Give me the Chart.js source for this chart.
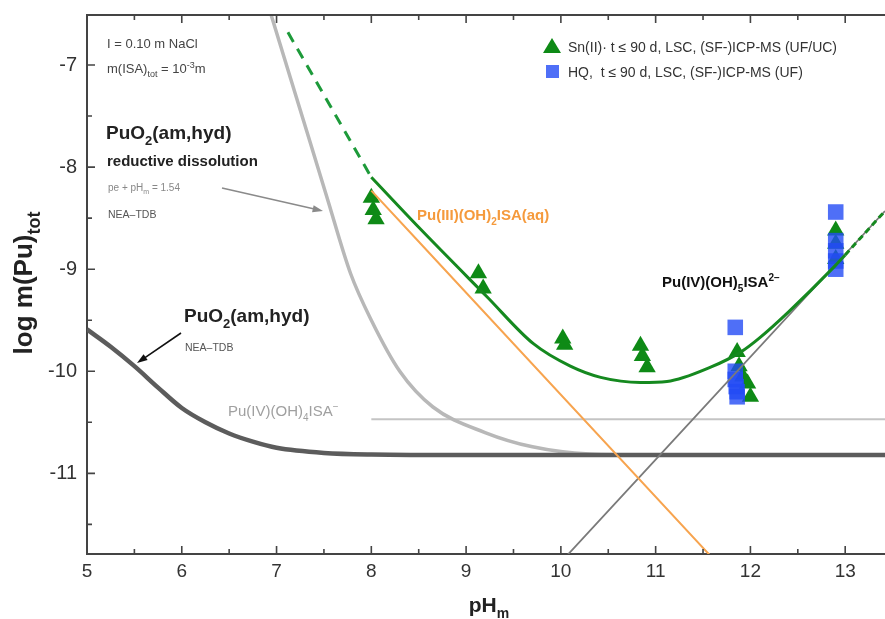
<!DOCTYPE html>
<html>
<head>
<meta charset="utf-8">
<script src="https://cdn.jsdelivr.net/npm/chart.js@4.4.0/dist/chart.umd.min.js"></script>
<style>
  html, body { margin: 0; padding: 0; background: #fff; }
</style>
</head>
<body>
<canvas id="puChart" width="885" height="619"></canvas>
<script>
const FONT = "Arial, 'Liberation Sans', Helvetica, sans-serif";

// solubility curves
const neaPH = [5.0, 5.25, 5.5, 5.75, 6.0, 6.25, 6.5, 6.75, 7.0, 7.5, 8.0, 9.0, 13.42];
const neaLog = [-9.59, -9.76, -9.95, -10.16, -10.36, -10.5, -10.61, -10.69, -10.75, -10.8, -10.815, -10.82, -10.82];

const redPH = [6.93, 7.25, 7.53, 7.78, 8.0, 8.3, 8.65, 9.2, 9.7, 10.3, 11.0, 13.42];
const redLog = [-6.47, -7.44, -8.29, -9.04, -9.5, -10.0, -10.35, -10.6, -10.74, -10.81, -10.82, -10.82];

const greenPH = [8.0, 8.5, 9.22, 9.71, 10.1, 10.42, 10.84, 11.12, 11.58, 11.9, 12.1, 12.4, 12.88, 13.0];
const greenLog = [-8.1, -8.59, -9.27, -9.73, -9.95, -10.06, -10.11, -10.1, -9.96, -9.81, -9.67, -9.42, -8.98, -8.86];
const greenLowPH = [7.12, 8.0];
const greenLowLog = [-6.68, -8.1];
const greenHighPH = [13.0, 13.42];
const greenHighLog = [-8.86, -8.43];

const pu3PH = [8.0, 11.6];
const pu3Log = [-8.23, -11.83];
const pu5PH = [10.04, 13.42];
const pu5Log = [-11.83, -8.43];
const pu4PH = [8.0, 13.42];
const pu4Log = [-10.47, -10.47];

// experimental data
const snPH = [8.0, 8.02, 8.05, 9.13, 9.18, 10.02, 10.04, 10.84, 10.86, 10.91, 11.86, 11.88, 11.92, 11.97, 12.0, 12.9, 12.9, 12.9];
const snLog = [-8.3, -8.42, -8.51, -9.04, -9.19, -9.68, -9.74, -9.75, -9.85, -9.96, -9.81, -9.95, -10.05, -10.12, -10.25, -8.62, -8.75, -8.9];
const hqPH = [11.84, 11.84, 11.84, 11.85, 11.86, 11.86, 12.9, 12.9, 12.9, 12.9, 12.9];
const hqLog = [-9.57, -10.0, -10.08, -10.15, -10.2, -10.25, -8.44, -8.72, -8.82, -8.92, -9.0];

const xTicks = [5, 6, 7, 8, 9, 10, 11, 12, 13];
const yTicks = [-11, -10, -9, -8, -7];

const toPts = (xs, ys) => xs.map((v, i) => ({ x: v, y: ys[i] }));

const lineSet = (label, xs, ys, color, width, order, dash) => ({
  label: label,
  data: toPts(xs, ys),
  showLine: true,
  borderColor: color,
  borderWidth: width,
  borderDash: dash || [],
  pointRadius: 0,
  cubicInterpolationMode: "monotone",
  order: order,
});

// draws text with sub/superscripts: parts = [[text, "sub"|"sup"|undefined], ...]
const drawRich = (ctx, parts, x, y, size, bold, color, align) => {
  const w = bold ? "bold " : "";
  const fontOf = (p) => w + (p[1] ? Math.round(size * 0.68) : size) + "px " + FONT;
  let total = 0;
  parts.forEach((p) => {
    ctx.font = fontOf(p);
    total += ctx.measureText(p[0]).width;
  });
  let cx = align === "center" ? x - total / 2 : x;
  ctx.fillStyle = color;
  ctx.textBaseline = "alphabetic";
  ctx.textAlign = "left";
  parts.forEach((p) => {
    ctx.font = fontOf(p);
    let dy = 0;
    if (p[1] === "sub") dy = size * 0.3;
    if (p[1] === "sup") dy = -size * 0.42;
    ctx.fillText(p[0], cx, y + dy);
    cx += ctx.measureText(p[0]).width;
  });
};

const drawArrow = (ctx, x1, y1, x2, y2, color, width) => {
  const ang = Math.atan2(y2 - y1, x2 - x1);
  const head = 11;
  ctx.strokeStyle = color;
  ctx.fillStyle = color;
  ctx.lineWidth = width;
  ctx.beginPath();
  ctx.moveTo(x1, y1);
  ctx.lineTo(x2 - Math.cos(ang) * head * 0.8, y2 - Math.sin(ang) * head * 0.8);
  ctx.stroke();
  ctx.beginPath();
  ctx.moveTo(x2, y2);
  ctx.lineTo(x2 - head * Math.cos(ang - 0.33), y2 - head * Math.sin(ang - 0.33));
  ctx.lineTo(x2 - head * Math.cos(ang + 0.33), y2 - head * Math.sin(ang + 0.33));
  ctx.closePath();
  ctx.fill();
};

// frame, inward ticks, titles, labels and legend
const decorations = {
  id: "decorations",
  afterDraw(chart) {
    const { ctx, chartArea: a, scales } = chart;
    const x = scales.x;
    const y = scales.y;
    ctx.save();

    ctx.strokeStyle = "#444";
    ctx.lineWidth = 2;
    ctx.beginPath();
    ctx.moveTo(a.left, a.top);
    ctx.lineTo(a.right, a.top);
    ctx.stroke();

    ctx.lineWidth = 1.6;
    ctx.beginPath();
    for (let v = 5; v <= x.max; v += 0.5) {
      const px = x.getPixelForValue(v);
      const len = Number.isInteger(v) ? 8 : 5;
      ctx.moveTo(px, a.bottom);
      ctx.lineTo(px, a.bottom - len);
      ctx.moveTo(px, a.top);
      ctx.lineTo(px, a.top + len);
    }
    for (let v = -11.5; v <= y.max; v += 0.5) {
      const py = y.getPixelForValue(v);
      const len = Number.isInteger(v) ? 8 : 5;
      ctx.moveTo(a.left, py);
      ctx.lineTo(a.left + len, py);
    }
    ctx.stroke();

    // axis titles
    drawRich(ctx, [["pH"], ["m", "sub"]], 489, 612, 21, true, "#222", "center");
    ctx.save();
    ctx.translate(32, 283);
    ctx.rotate(-Math.PI / 2);
    drawRich(ctx, [["log m(Pu)"], ["tot", "sub"]], 0, 0, 26, true, "#222", "center");
    ctx.restore();

    // conditions
    drawRich(ctx, [["I = 0.10 m NaCl"]], 107, 48, 13, false, "#444");
    drawRich(ctx, [["m(ISA)"], ["tot", "sub"], [" = 10"], ["-3", "sup"], ["m"]], 107, 73, 13, false, "#444");

    // reductive dissolution label
    drawRich(ctx, [["PuO"], ["2", "sub"], ["(am,hyd)"]], 106, 139, 19, true, "#222");
    drawRich(ctx, [["reductive dissolution"]], 107, 166, 15, true, "#222");
    drawRich(ctx, [["pe + pH"], ["m", "sub"], [" = 1.54"]], 108, 191, 10, false, "#888");
    drawRich(ctx, [["NEA\u2013TDB"]], 108, 218, 10.5, false, "#555");
    drawArrow(ctx, 222, 188, 323, 211, "#8a8a8a", 1.5);

    // NEA-TDB label
    drawRich(ctx, [["PuO"], ["2", "sub"], ["(am,hyd)"]], 184, 322, 19, true, "#222");
    drawRich(ctx, [["NEA\u2013TDB"]], 185, 351, 10.5, false, "#555");
    drawArrow(ctx, 181, 333, 137, 363, "#111", 1.6);

    // species labels
    drawRich(ctx, [["Pu(III)(OH)"], ["2", "sub"], ["ISA(aq)"]], 417, 220, 15, true, "#f59a3c");
    drawRich(ctx, [["Pu(IV)(OH)"], ["5", "sub"], ["ISA"], ["2\u2212", "sup"]], 662, 287, 15, true, "#111");
    drawRich(ctx, [["Pu(IV)(OH)"], ["4", "sub"], ["ISA"], ["\u2212", "sup"]], 228, 416, 15, false, "#a0a0a0");

    // legend
    const sn = chart.data.datasets.find((d) => d.label.startsWith("Sn"));
    const hq = chart.data.datasets.find((d) => d.label.startsWith("HQ"));
    ctx.fillStyle = sn.backgroundColor;
    ctx.beginPath();
    ctx.moveTo(552, 38);
    ctx.lineTo(561, 53);
    ctx.lineTo(543, 53);
    ctx.closePath();
    ctx.fill();
    ctx.fillStyle = hq.backgroundColor;
    ctx.fillRect(546, 65, 13, 13);
    drawRich(ctx, [[sn.label]], 568, 52, 14, false, "#333");
    drawRich(ctx, [[hq.label]], 568, 77, 14, false, "#333");

    ctx.restore();
  },
};

new Chart(document.getElementById("puChart"), {
  type: "scatter",
  data: {
    datasets: [
      lineSet("PuO2(am,hyd) red. diss.", redPH, redLog, "#b8b8b8", 3.5, 4),
      lineSet("PuO2(am,hyd) NEA-TDB", neaPH, neaLog, "#5c5c5c", 4.5, 3),
      lineSet("Pu(IV)(OH)4ISA-", pu4PH, pu4Log, "#c4c4c4", 2, 4),
      lineSet("Pu(III)(OH)2ISA(aq)", pu3PH, pu3Log, "#f7a44f", 2, 2),
      lineSet("Pu(IV)(OH)5ISA2-", pu5PH, pu5Log, "#7a7a7a", 1.8, 2),
      lineSet("model", greenPH, greenLog, "#15891f", 3, 1),
      lineSet("model low", greenLowPH, greenLowLog, "#1d9a3a", 3, 1, [11, 8]),
      lineSet("model high", greenHighPH, greenHighLog, "#15891f", 3, 1, [6, 4]),
      {
        label: "Sn(II)\u00b7 t \u2264 90 d, LSC, (SF-)ICP-MS (UF/UC)",
        data: toPts(snPH, snLog),
        pointStyle: "triangle",
        pointRadius: 10,
        backgroundColor: "#0e8a16",
        borderWidth: 0,
        order: 6,
      },
      {
        label: "HQ,  t \u2264 90 d, LSC, (SF-)ICP-MS (UF)",
        data: toPts(hqPH, hqLog),
        pointStyle: "rect",
        pointRadius: 11,
        backgroundColor: "rgba(35,75,245,0.8)",
        borderWidth: 0,
        order: 5,
      },
    ],
  },
  options: {
    responsive: false,
    animation: false,
    events: [],
    layout: { autoPadding: false, padding: { top: 15, left: 0, right: 0, bottom: 0 } },
    plugins: { legend: { display: false }, tooltip: { enabled: false } },
    scales: {
      x: {
        type: "linear",
        min: 5,
        max: 13.42,
        afterBuildTicks: (s) => {
          s.ticks = xTicks.map((v) => ({ value: v }));
        },
        afterFit: (s) => {
          s.height = 65;
          s.paddingLeft = 0;
          s.paddingRight = 0;
        },
        grid: { display: false, drawTicks: false, tickLength: 0 },
        border: { display: true, color: "#444", width: 2 },
        ticks: { font: { family: FONT, size: 19 }, color: "#333", padding: 6, maxRotation: 0 },
      },
      y: {
        type: "linear",
        min: -11.79,
        max: -6.51,
        afterBuildTicks: (s) => {
          s.ticks = yTicks.map((v) => ({ value: v }));
        },
        afterFit: (s) => {
          s.width = 87;
          s.paddingTop = 0;
          s.paddingBottom = 0;
        },
        grid: { display: false, drawTicks: false, tickLength: 0 },
        border: { display: true, color: "#444", width: 2 },
        ticks: { font: { family: FONT, size: 20 }, color: "#333", padding: 10 },
      },
    },
  },
  plugins: [decorations],
});
</script>
</body>
</html>
